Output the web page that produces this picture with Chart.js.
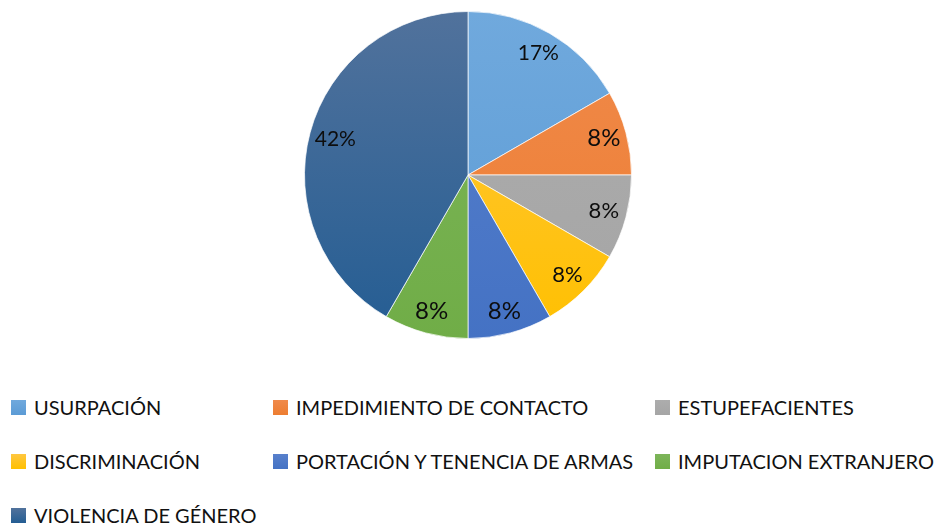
<!DOCTYPE html>
<html>
<head>
<meta charset="utf-8">
<script src="https://cdn.jsdelivr.net/npm/chart.js@4"></script>
<style>
  html, body { margin: 0; padding: 0; background: #fff; }
  #wrap { position: relative; width: 936px; height: 524px; overflow: hidden; font-family: Lato, "Open Sans", sans-serif; }
  #pieBox { position: absolute; left: 0; top: 0; width: 936px; height: 350px; }
  .leg { position: absolute; height: 22px; line-height: 22px; font-size: 20px; color: #111; white-space: nowrap; }
  .leg i { position: absolute; left: 0; top: 4px; width: 15px; height: 15px; }
  .leg span { position: absolute; left: 23px; top: 0; }
</style>
</head>
<body>
<div id="wrap">
  <div id="pieBox"><canvas id="pieChart"></canvas></div>
  <div id="legend"></div>
</div>
<script>
const categories = ['USURPACIÓN', 'IMPEDIMIENTO DE CONTACTO', 'ESTUPEFACIENTES', 'DISCRIMINACIÓN',
    'PORTACIÓN Y TENENCIA DE ARMAS', 'IMPUTACION EXTRANJERO', 'VIOLENCIA DE GÉNERO'];
const casos = [2, 1, 1, 1, 1, 1, 5];
const pctLabels = ['17%', '8%', '8%', '8%', '8%', '8%', '42%'];
const labelSizes = [21, 24, 22, 22, 24, 24, 21];
const topColors = ['#70A9DD', '#F08A4B', '#ADADAD', '#FFC740', '#5880CC', '#7DB55A', '#51729C'];
const bottomColors = ['#5B9BD5', '#ED7D31', '#A5A5A5', '#FFC000', '#4472C4', '#70AD47', '#245D93'];

// legend position (col, row)
const legendCols = [11, 273, 655];
const legendRows = [396, 450, 504];

const pctPlugin = {
    id: 'pctPlugin',
    afterDatasetsDraw(chart) {
        const ctx = chart.ctx;
        const meta = chart.getDatasetMeta(0);
        meta.data.forEach((arc, i) => {
            const p = arc.getProps(['x', 'y', 'startAngle', 'endAngle', 'outerRadius']);
            const mid = (p.startAngle + p.endAngle) / 2;
            const r = p.outerRadius * (i === 6 ? 0.84 : 0.86);
            ctx.save();
            ctx.font = labelSizes[i] + 'px Lato';
            ctx.fillStyle = '#0d0d0d';
            ctx.textAlign = 'center';
            ctx.textBaseline = 'middle';
            ctx.fillText(pctLabels[i], p.x + Math.cos(mid) * r, p.y + Math.sin(mid) * r);
            ctx.restore();
        });
    }
};

const sliceFill = (context) => {
    const chart = context.chart;
    const area = chart.chartArea;
    const i = context.dataIndex;
    if (!area) return bottomColors[i];
    const g = chart.ctx.createLinearGradient(0, area.top, 0, area.bottom);
    g.addColorStop(0, topColors[i]);
    g.addColorStop(1, bottomColors[i]);
    return g;
};

new Chart(document.getElementById('pieChart'), {
    type: 'pie',
    data: {
        labels: categories,
        datasets: [{
            data: casos,
            backgroundColor: sliceFill,
            borderColor: 'rgba(255,255,255,0.7)',
            borderWidth: 1
        }]
    },
    options: {
        responsive: true,
        maintainAspectRatio: false,
        animation: false,
        layout: { padding: { top: 11, bottom: 11 } },
        plugins: {
            legend: { display: false },
            tooltip: { enabled: false }
        }
    },
    plugins: [pctPlugin]
});

const legendDiv = document.getElementById('legend');
categories.forEach((name, i) => {
    const item = document.createElement('div');
    item.className = 'leg';
    item.style.left = legendCols[i % 3] + 'px';
    item.style.top = legendRows[Math.floor(i / 3)] + 'px';
    item.innerHTML = `<i style="background: linear-gradient(${topColors[i]}, ${bottomColors[i]})"></i><span>${name}</span>`;
    legendDiv.appendChild(item);
});
</script>
</body>
</html>
